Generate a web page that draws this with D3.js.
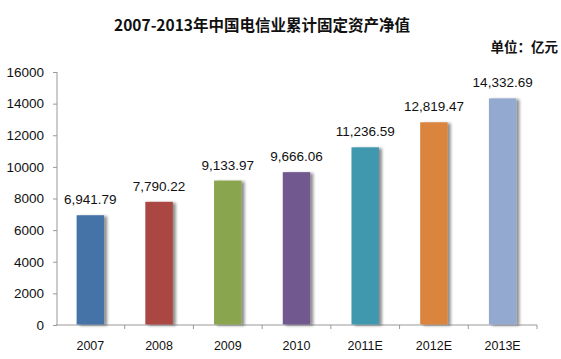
<!DOCTYPE html>
<html><head><meta charset="utf-8">
<script src="https://cdn.jsdelivr.net/npm/d3@7"></script>
<style>body{margin:0;background:#fff}svg{display:block}</style>
</head><body>
<script>
const categories = ["2007","2008","2009","2010","2011E","2012E","2013E"];
const values = [6941.79, 7790.22, 9133.97, 9666.06, 11236.59, 12819.47, 14332.69];
const colors = ["#4572A7","#AA4643","#89A54E","#71588F","#4198AF","#DB843D","#93A9CF"];
const yTicks = [0,2000,4000,6000,8000,10000,12000,14000,16000];
const title = "2007-2013年中国电信业累计固定资产净值";
const unit = "单位：亿元";

const W=561,H=359;
const svg=d3.select("body").append("svg").attr("width",W).attr("height",H);
const defs=svg.append("defs");
const f=defs.append("filter").attr("id","sh").attr("x","-20%").attr("y","-5%").attr("width","160%").attr("height","110%");
f.append("feOffset").attr("in","SourceAlpha").attr("dx",3).attr("dy",1).attr("result","o");
f.append("feGaussianBlur").attr("in","o").attr("stdDeviation",1.5).attr("result","b");
f.append("feComponentTransfer").attr("in","b").attr("result","c").append("feFuncA").attr("type","linear").attr("slope",0.45);
const m=f.append("feMerge");m.append("feMergeNode").attr("in","c");m.append("feMergeNode").attr("in","SourceGraphic");

const x=d3.scaleBand().domain(categories).range([56,537]).paddingInner(0.6).paddingOuter(0.3);
const y=d3.scaleLinear().domain([0,16000]).range([325,72]);

svg.append("text").attr("x",262).attr("y",31).attr("text-anchor","middle")
 .attr("font-family","'Noto Sans CJK SC',sans-serif").attr("font-weight","bold").attr("font-size",15.5).attr("fill","#111").text(title);
svg.append("text").attr("x",558).attr("y",52).attr("text-anchor","end")
 .attr("font-family","'Noto Sans CJK SC',sans-serif").attr("font-weight","bold").attr("font-size",13.5).attr("fill","#111").text(unit);

const yAxis=svg.append("g").attr("transform","translate(57,0)")
 .call(d3.axisLeft(y).tickValues(yTicks).tickSize(4).tickFormat(d3.format("d")));
yAxis.select(".domain").attr("stroke","#999").attr("d","M0,72V325");
yAxis.selectAll(".tick line").attr("stroke","#999");
yAxis.selectAll(".tick text").attr("font-family","'Liberation Sans',sans-serif").attr("font-size",13.5).attr("fill","#111").attr("x",-13);

const xb=d3.scaleBand().domain(categories).range([56,537]);
const xAxis=svg.append("g").attr("transform","translate(0,325)");
xAxis.append("line").attr("x1",56).attr("x2",537).attr("stroke","#999");
xAxis.selectAll("line.t").data(categories).join("line").attr("class","t")
 .attr("x1",d=>xb(d)+xb.bandwidth()).attr("x2",d=>xb(d)+xb.bandwidth()).attr("y1",0).attr("y2",4).attr("stroke","#999");
xAxis.selectAll("text").data(categories).join("text")
 .attr("x",d=>x(d)+x.bandwidth()/2).attr("y",25).attr("text-anchor","middle")
 .attr("font-family","'Liberation Sans',sans-serif").attr("font-size",12.5).attr("fill","#111").text(d=>d);

svg.append("g").selectAll("rect").data(values).join("rect")
 .attr("x",(d,i)=>x(categories[i])).attr("width",x.bandwidth())
 .attr("y",d=>y(d)).attr("height",d=>y(0)-y(d)-0.5)
 .attr("fill",(d,i)=>colors[i]).attr("filter","url(#sh)");

svg.append("g").selectAll("text").data(values).join("text")
 .attr("x",(d,i)=>x(categories[i])+x.bandwidth()/2).attr("y",d=>y(d)-11)
 .attr("text-anchor","middle").attr("font-family","'Liberation Sans',sans-serif").attr("font-size",13.5).attr("fill","#111")
 .text(d=>d3.format(",.2f")(d));
</script>
</body></html>
